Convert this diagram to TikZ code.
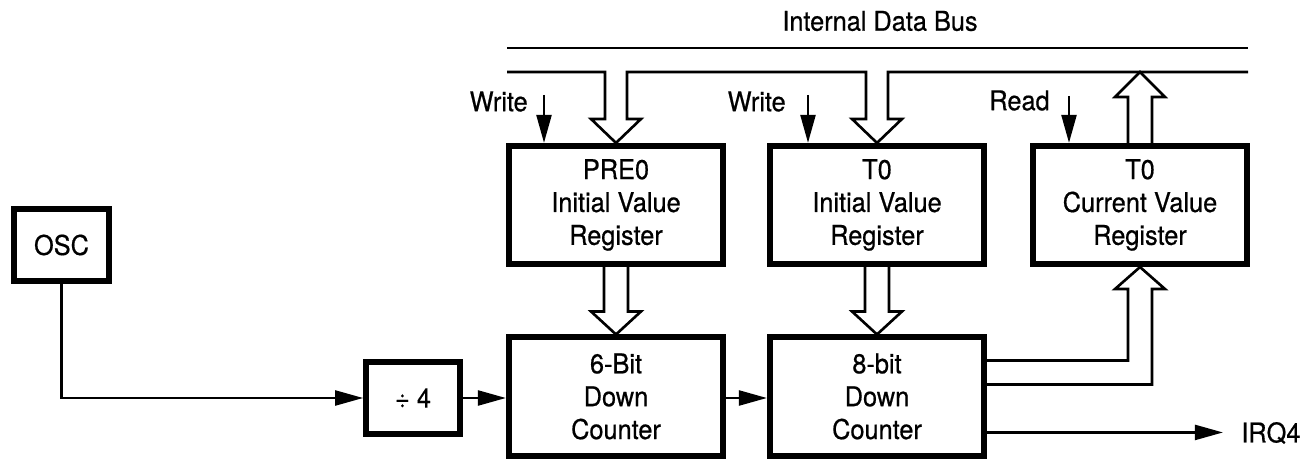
\documentclass[tikz,border=0pt]{standalone}
\usepackage{fontspec}
\setmainfont{TeX Gyre Heros}[FakeStretch=0.93,FakeBold=0.6]
\usetikzlibrary{arrows.meta,calc}

\begin{document}
\begin{tikzpicture}[
x=0.02cm,y=-0.02cm,
every node/.style={font=\fontsize{15.5}{18.7}\selectfont},
box/.style={draw,line width=3.2pt,minimum width=4.29cm,minimum height=2.37cm,align=center,inner sep=0pt},
lbl/.style={inner sep=0pt},
ln/.style={line width=1.5pt},
arw/.style={-{Triangle[length=16pt,width=8.5pt]},line width=1.5pt}
]
%\draw[help lines](0,0)grid[step=1cm](1306,459);
\useasboundingbox (0,0) rectangle (1306,459);

% bus
\node[lbl] (bus) at (880,21) {Internal Data Bus};
\coordinate (bus1L) at (507,48);
\coordinate (bus1R) at (1248,48);
\coordinate (busL) at (507,72);
\coordinate (busR) at (1248,72);
\draw[ln] (bus1L) -- (bus1R);

% registers and counters
\node[box] at (616,205) (pre) {PRE0\\Initial Value\\Register};
\node[box] at (877,205) (t0i) {T0\\Initial Value\\Register};
\node[box] at (1140,205) (t0c) {T0\\Current Value\\Register};
\node[box] at (616,396.5) (cnt6) {6-Bit\\Down\\Counter};
\node[box] at (877,396.5) (cnt8) {8-bit\\Down\\Counter};
\node[box,minimum width=1.9cm,minimum height=1.45cm] at (61.5,245) (osc) {OSC};
\node[box,minimum width=1.88cm,minimum height=1.45cm] at (413,398) (div) {÷ 4};

% bus with the two load arrows
\draw[ln] (busL)
 -- ($(pre.north)+(-11,-71)$) -- ($(pre.north)+(-11,-24)$) -- ++(-14,0) -- (pre.north) -- ++(25,-24) -- ++(-14,0) -- ($(pre.north)+(11,-71)$)
 -- ($(t0i.north)+(-11,-71)$) -- ($(t0i.north)+(-11,-24)$) -- ++(-14,0) -- (t0i.north) -- ++(25,-24) -- ++(-14,0) -- ($(t0i.north)+(11,-71)$)
 -- (busR);
% read back to bus
\draw[ln] ($(t0c.north)+(-12,0)$) -- ($(t0c.north)+(-12,-46)$) -- ++(-13,0) -- ($(t0c.north)+(0,-71)$) -- ++(25,25) -- ++(-13,0) -- ($(t0c.north)+(12,0)$);

% initial values into counters
\draw[ln] ($(pre.south)+(-12,0)$) -- ($(cnt6.north)+(-12,-23)$) -- ++(-13,0) -- (cnt6.north) -- ++(25,-23) -- ++(-13,0) -- ($(pre.south)+(12,0)$);
\draw[ln] ($(t0i.south)+(-12,0)$) -- ($(cnt8.north)+(-12,-23)$) -- ++(-13,0) -- (cnt8.north) -- ++(25,-23) -- ++(-13,0) -- ($(t0i.south)+(12,0)$);
% counter into current value register
\draw[ln] ($(cnt8.north east)+(0,26)$) -| ($(t0c.south)+(-12,22)$) -- ++(-13,0) -- (t0c.south) -- ++(25,22) -- ++(-13,0) |- ($(cnt8.north east)+(0,50)$);

% write / read strobes
\node[lbl,anchor=east] (wl1) at (528,101.5) {Write};
\node[lbl,anchor=east] (wl2) at (786,101.5) {Write};
\node[lbl,anchor=east] (rl) at (1050,100.5) {Read};
\coordinate (w1) at (544,95);
\coordinate (w2) at (808,95);
\coordinate (rd) at (1069,96);
\draw[arw] (w1) -- (w1 |- pre.north);
\draw[arw] (w2) -- (w2 |- t0i.north);
\draw[arw] (rd) -- (rd |- t0c.north);

% clock chain
\draw[arw] (osc.south) |- (div.west);
\draw[arw] (div.east) -- (div.east -| cnt6.west);
\draw[arw] (cnt6.east |- div.east) -- (cnt8.west |- div.east);

% interrupt
\node[lbl,anchor=west] (irq) at (1241,433) {IRQ4};
\coordinate (q) at ($(cnt8.north east)+(0,98)$);
\draw[arw] (q) -- (q -| 1223,0);

\end{tikzpicture}
\end{document}
